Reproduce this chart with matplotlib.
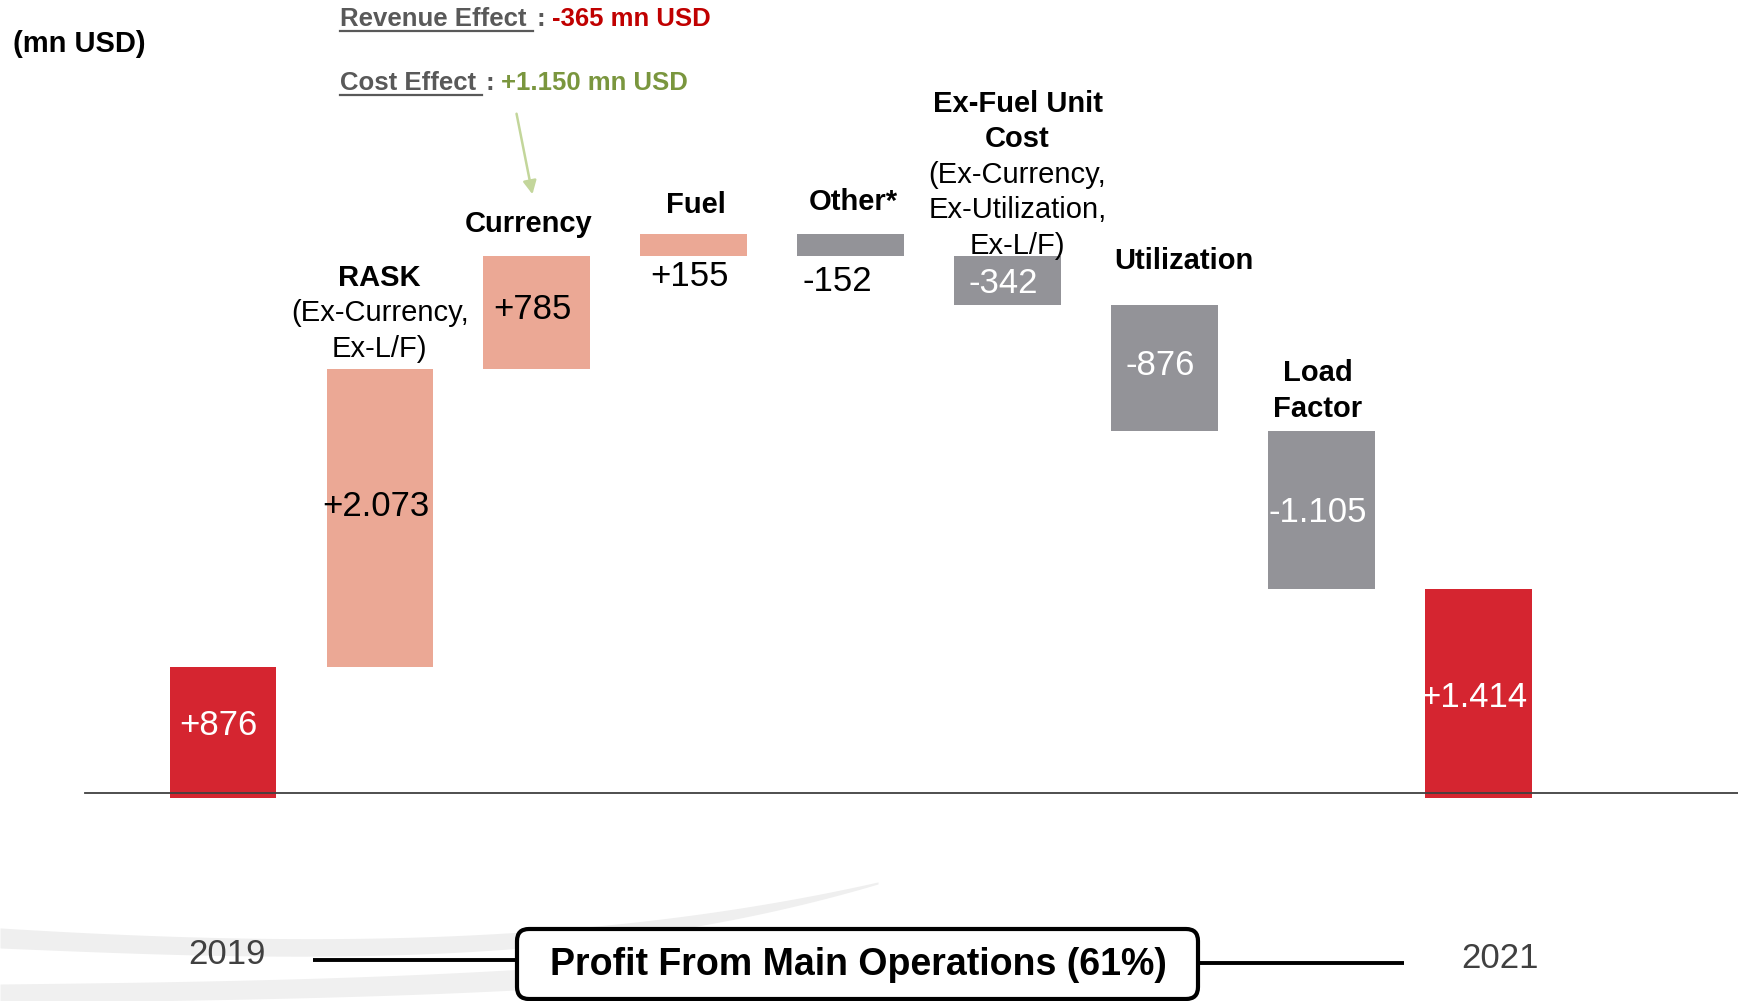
import numpy as np
import matplotlib.pyplot as plt
from matplotlib.patches import FancyBboxPatch

plt.rcParams['font.family'] = ['Liberation Sans', 'DejaVu Sans']

# data
categories = ["2019", "RASK", "Currency", "Fuel", "Other*",
              "Ex-Fuel Unit Cost", "Utilization", "Load Factor", "2021"]
changes = [876, 2073, 785, 155, -152, -342, -876, -1105, 1414]
is_total = [True, False, False, False, False, False, False, False, True]

# header lines above each bar: (text, bold)
headers = [
    [],
    [("RASK", True), ("(Ex-Currency,", False), ("Ex-L/F)", False)],
    [("Currency", True)],
    [("Fuel", True)],
    [("Other*", True)],
    [("Ex-Fuel Unit", True), ("Cost", True), ("(Ex-Currency,", False),
     ("Ex-Utilization,", False), ("Ex-L/F)", False)],
    [("Utilization", True)],
    [("Load", True), ("Factor", True)],
    [],
]
revenue_effect = -365
cost_effect = 1150
unit_label = "(mn USD)"
bracket_title = "Profit From Main Operations (61%)"

# styling
W, H = 1738, 1001
C_TOTAL, C_UP, C_DOWN = '#D52530', '#EBA895', '#939398'
header_gap = [0, 20, 32, 29, 32, 10, 44, 22, 0]   # px from bar top to last header line
header_dx = [0, 0, -8, 2, 3, 10, 19, -4, 0]
value_dy = [4, 11, 3, 0, 0, -3, 2, -3, -7]         # px nudge of in-bar labels (up positive)
line_step = 35.5
PT = 0.72  # px -> pt at dpi 100


def fmt(v):
    return f"{v:+,}".replace(",", ".")


fig = plt.figure(figsize=(W / 100, H / 100), dpi=100)

# background / annotation layer in pixel coords
bg = fig.add_axes([0, 0, 1, 1])
bg.set_xlim(0, W)
bg.set_ylim(H, 0)
bg.axis('off')

# faint template swooshes
def edge(px, py, xs):
    return np.polyval(np.polyfit(px, py, 3), xs)


xs = np.linspace(0, 878, 300)
bg.fill_between(xs,
                edge([0, 300, 450, 600, 878], [928, 938, 937, 925, 882], xs),
                edge([0, 300, 450, 600, 878], [948, 956, 953, 940, 884], xs),
                color='#EFEFEF', lw=0, zorder=0)
xs2 = np.linspace(0, 800, 300)
bg.fill_between(xs2,
                edge([0, 250, 450, 800], [984, 980, 973, 945], xs2),
                edge([0, 250, 450, 800], [1003, 999, 993, 968], xs2),
                color='#F0F0F0', lw=0, zorder=0)

# waterfall axes
ax = fig.add_axes([0, 0, 1, 1])
ax.patch.set_visible(False)
spacing_px, x0_px, base_px, upp = 156.95, 222.8, 792.5, 6.96
ax.set_xlim(-x0_px / spacing_px, (W - x0_px) / spacing_px)
ax.set_ylim(-(H - base_px) * upp, base_px * upp)
ax.axis('off')

overhang = 35
running = 0
for i, (cat, v, tot) in enumerate(zip(categories, changes, is_total)):
    if tot:
        bottom, top = 0, v
        running = v
        color = C_TOTAL
    else:
        bottom, top = sorted([running, running + v])
        running += v
        color = C_UP if v > 0 else C_DOWN
    b = bottom - overhang if tot else bottom
    ax.bar(i, top - b, bottom=b, width=0.678, color=color, zorder=2)

    # value label
    txt_color = 'white' if (tot or v < 0) else 'black'
    if top - bottom > 200:
        ax.annotate(fmt(v), xy=(i, (top + bottom) / 2), xytext=(-3, value_dy[i] * PT),
                    textcoords='offset points', ha='center', va='center',
                    fontsize=25, color=txt_color, zorder=5)
    else:
        dy = 20 if v > 0 else 25.5
        dx = -4 if v > 0 else -13
        ax.annotate(fmt(v), xy=(i, bottom), xytext=(dx * PT, -dy * PT),
                    textcoords='offset points', ha='center', va='center',
                    fontsize=25, color='black', zorder=5)

    # header lines
    for k, (line, bold) in enumerate(reversed(headers[i])):
        ax.annotate(line, xy=(i, top),
                    xytext=(header_dx[i] * PT, (header_gap[i] + k * line_step) * PT),
                    textcoords='offset points', ha='center', va='center',
                    fontsize=21, fontweight='bold' if bold else 'normal',
                    color='black', zorder=6)

ax.axhline(0, xmin=85 / W, xmax=1, color='#404040', lw=1.3, zorder=3)

# unit label
bg.text(13, 44, unit_label, ha='left', va='center', fontsize=21, fontweight='bold')

# effect lines with underline
renderer = fig.canvas.get_renderer()
inv = bg.transData.inverted()


def effect_line(y, name, value, color):
    t1 = bg.text(340, y, name, ha='left', va='center', fontsize=18.5,
                 fontweight='bold', color='#595959')
    bb = t1.get_window_extent(renderer)
    (xa, ya), (xb, _) = inv.transform([(bb.x0, bb.y0), (bb.x1, bb.y0)])
    bg.plot([xa, xb + 6], [ya, ya], color='#595959', lw=1.6)
    t2 = bg.annotate(":", xy=(1, 0), xycoords=t1, xytext=(7, 0),
                     textcoords='offset points', ha='left', va='bottom',
                     fontsize=18.5, fontweight='bold', color='#595959')
    bg.annotate(f"{fmt(value)} mn USD", xy=(1, 0), xycoords=t2, xytext=(5, 0),
                textcoords='offset points', ha='left', va='bottom',
                fontsize=18.5, fontweight='bold', color=color)


effect_line(19, "Revenue Effect", revenue_effect, '#C00000')
effect_line(83, "Cost Effect", cost_effect, '#7A963E')

bg.annotate("", xy=(533, 197), xytext=(516, 111),
            arrowprops=dict(arrowstyle='-|>', color='#C3D69B', lw=1.8,
                            mutation_scale=20))

# bottom bracket
bg.text(227, 955, categories[0], ha='center', va='center', fontsize=25, color='#404040')
bg.text(1500, 958, categories[-1], ha='center', va='center', fontsize=25, color='#404040')
bg.plot([313, 516], [960, 960], color='black', lw=2.8, solid_capstyle='butt')
bg.plot([1199, 1404], [963, 963], color='black', lw=2.8, solid_capstyle='butt')
box = FancyBboxPatch((517, 929), 681, 70, boxstyle='round,pad=0,rounding_size=12',
                     fc='white', ec='black', lw=3, zorder=4)
bg.add_patch(box)
bg.text(858, 965, bracket_title, ha='center', va='center', fontsize=27,
        fontweight='bold', zorder=5)

fig.savefig('out.png', dpi=100)
